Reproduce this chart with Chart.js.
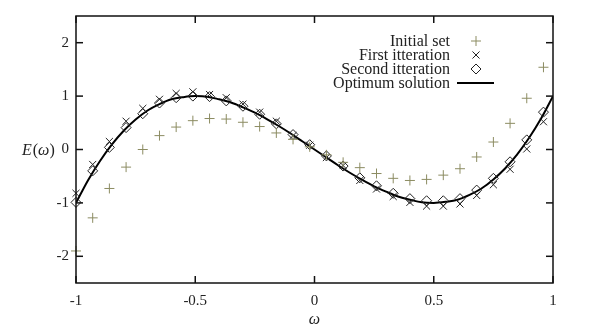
<!DOCTYPE html>
<html>
<head>
<meta charset="utf-8">
<script src="https://cdn.jsdelivr.net/npm/chart.js@4/dist/chart.umd.min.js"></script>
<style>
  body { margin: 0; background: #fff; }
  #wrap { width: 604px; height: 329px; }
</style>
</head>
<body>
<div id="wrap"><canvas id="chart" width="604" height="329"></canvas></div>
<script>
// sample abscissas of the three point sets
const omega = [-1.00, -0.93, -0.86, -0.79, -0.72, -0.65, -0.58, -0.51, -0.44, -0.37,
  -0.30, -0.23, -0.16, -0.09, -0.02, 0.05, 0.12, 0.19, 0.26, 0.33,
  0.40, 0.47, 0.54, 0.61, 0.68, 0.75, 0.82, 0.89, 0.96];

const initialSet = [-1.90, -1.28, -0.73, -0.33, 0.00, 0.26, 0.42, 0.54, 0.58, 0.57,
  0.51, 0.43, 0.31, 0.19, 0.05, -0.10, -0.24, -0.34, -0.45, -0.54,
  -0.58, -0.56, -0.48, -0.36, -0.14, 0.14, 0.49, 0.96, 1.54];

const firstIteration = [-0.82, -0.28, 0.15, 0.53, 0.77, 0.94, 1.05, 1.08, 1.03, 0.97,
  0.85, 0.70, 0.53, 0.26, 0.08, -0.15, -0.30, -0.58, -0.74, -0.88,
  -0.99, -1.06, -1.06, -1.02, -0.86, -0.66, -0.37, 0.01, 0.52];

const secondIteration = [-0.99, -0.40, 0.04, 0.41, 0.67, 0.87, 0.97, 1.00, 0.99, 0.91,
  0.81, 0.66, 0.48, 0.28, 0.09, -0.12, -0.31, -0.53, -0.68, -0.82,
  -0.92, -0.96, -0.96, -0.92, -0.76, -0.54, -0.23, 0.18, 0.70];

// optimum curve, read every 0.05
const optimumX = [-1.00, -0.95, -0.90, -0.85, -0.80, -0.75, -0.70, -0.65, -0.60, -0.55,
  -0.50, -0.45, -0.40, -0.35, -0.30, -0.25, -0.20, -0.15, -0.10, -0.05,
  0.00, 0.05, 0.10, 0.15, 0.20, 0.25, 0.30, 0.35, 0.40, 0.45,
  0.50, 0.55, 0.60, 0.65, 0.70, 0.75, 0.80, 0.85, 0.90, 0.95, 1.00];
const optimumY = [-1.00, -0.58, -0.22, 0.09, 0.35, 0.56, 0.73, 0.85, 0.94, 0.98,
  1.00, 0.99, 0.94, 0.88, 0.79, 0.69, 0.57, 0.44, 0.30, 0.15,
  0.00, -0.15, -0.30, -0.44, -0.57, -0.69, -0.79, -0.88, -0.94, -0.99,
  -1.00, -0.98, -0.94, -0.85, -0.73, -0.56, -0.35, -0.09, 0.22, 0.58, 1.00];

const xTicks = [-1, -0.5, 0, 0.5, 1];
const yTicks = [-2, -1, 0, 1, 2];

const FONT = '"Liberation Serif", "Times New Roman", serif';
const OLIVE = '#8c8c62';

const pts = (xs, ys) => xs.map((x, i) => ({ x: x, y: ys[i] }));

// box, inward ticks, y title and the gnuplot-like legend
const gnuplotLook = {
  id: 'gnuplotLook',
  afterDraw(chart) {
    const { ctx, chartArea: a, scales: { x, y } } = chart;
    ctx.save();
    ctx.strokeStyle = '#111';
    ctx.lineWidth = 1.5;
    ctx.strokeRect(a.left, a.top, a.width, a.height);
    const seg = (x1, y1, x2, y2) => { ctx.beginPath(); ctx.moveTo(x1, y1); ctx.lineTo(x2, y2); ctx.stroke(); };
    xTicks.forEach(v => {
      const px = x.getPixelForValue(v);
      seg(px, a.bottom, px, a.bottom - 7);
      seg(px, a.top, px, a.top + 7);
    });
    yTicks.forEach(v => {
      const py = y.getPixelForValue(v);
      seg(a.left, py, a.left + 7, py);
      seg(a.right, py, a.right - 7, py);
    });

    // E(ω) label, horizontal, left of the 0 tick
    const y0 = y.getPixelForValue(0) + 5;
    ctx.fillStyle = '#222';
    ctx.textBaseline = 'alphabetic';
    ctx.textAlign = 'left';
    let cx = 22;
    [['E', true], ['(', false], ['ω', true], [')', false]].forEach(([t, it]) => {
      ctx.font = (it ? 'italic ' : '') + '16px ' + FONT;
      ctx.fillText(t, cx, y0);
      cx += ctx.measureText(t).width + (t === 'E' ? 1 : 0);
    });

    // legend
    const rows = [41, 55, 69, 83];
    ctx.font = '16px ' + FONT;
    ctx.textAlign = 'right';
    ctx.textBaseline = 'middle';
    chart.data.datasets.forEach((ds, i) => {
      const ry = rows[i];
      ctx.fillStyle = '#222';
      ctx.fillText(ds.label, 450, ry + 1);
      if (ds.showLine) {
        ctx.strokeStyle = ds.borderColor;
        ctx.lineWidth = ds.borderWidth;
        seg(457, ry, 494, ry);
      } else {
        ctx.strokeStyle = ds.pointBorderColor;
        ctx.fillStyle = 'rgba(0,0,0,0)';
        ctx.lineWidth = ds.pointBorderWidth;
        Chart.helpers.drawPoint(ctx, { pointStyle: ds.pointStyle, radius: ds.pointRadius, rotation: 0, borderWidth: ds.pointBorderWidth }, 476, ry);
      }
    });
    ctx.restore();
  }
};

new Chart(document.getElementById('chart'), {
  type: 'scatter',
  data: {
    datasets: [
      {
        label: 'Initial set',
        data: pts(omega, initialSet),
        pointStyle: 'cross',
        pointRadius: 5,
        pointBorderWidth: 1,
        pointBorderColor: OLIVE,
        pointBackgroundColor: OLIVE,
        showLine: false,
        clip: false
      },
      {
        label: 'First itteration',
        data: pts(omega, firstIteration),
        pointStyle: 'crossRot',
        pointRadius: 5,
        pointBorderWidth: 1,
        pointBorderColor: '#222',
        pointBackgroundColor: '#222',
        showLine: false,
        clip: false
      },
      {
        label: 'Second itteration',
        data: pts(omega, secondIteration),
        pointStyle: 'rectRot',
        pointRadius: 5,
        pointBorderWidth: 1,
        pointBorderColor: '#222',
        pointBackgroundColor: 'rgba(0,0,0,0)',
        showLine: false,
        clip: false
      },
      {
        label: 'Optimum solution',
        data: pts(optimumX, optimumY),
        showLine: true,
        borderColor: '#000',
        borderWidth: 2,
        pointRadius: 0,
        cubicInterpolationMode: 'monotone'
      }
    ]
  },
  options: {
    responsive: false,
    animation: false,
    layout: { padding: { top: 13, right: 51, left: 0, bottom: 0 } },
    plugins: { legend: { display: false }, tooltip: { enabled: false } },
    scales: {
      x: {
        type: 'linear',
        min: -1, max: 1,
        afterBuildTicks: s => { s.ticks = xTicks.map(v => ({ value: v })); },
        afterFit: s => { s.height = 46; },
        grid: { display: false, drawTicks: false },
        border: { display: false },
        ticks: {
          padding: 9,
          color: '#222',
          font: { family: FONT, size: 15 },
          callback: v => String(v)
        },
        title: {
          display: true,
          text: 'ω',
          color: '#222',
          font: { family: FONT, size: 16, style: 'italic' },
          padding: { top: 0, bottom: 0 }
        }
      },
      y: {
        min: -2.5, max: 2.5,
        afterBuildTicks: s => { s.ticks = yTicks.map(v => ({ value: v })); },
        afterFit: s => { s.width = 76; },
        grid: { display: false, drawTicks: false },
        border: { display: false },
        ticks: {
          padding: 7,
          color: '#222',
          font: { family: FONT, size: 15 },
          callback: v => String(v)
        }
      }
    }
  },
  plugins: [gnuplotLook]
});
</script>
</body>
</html>
